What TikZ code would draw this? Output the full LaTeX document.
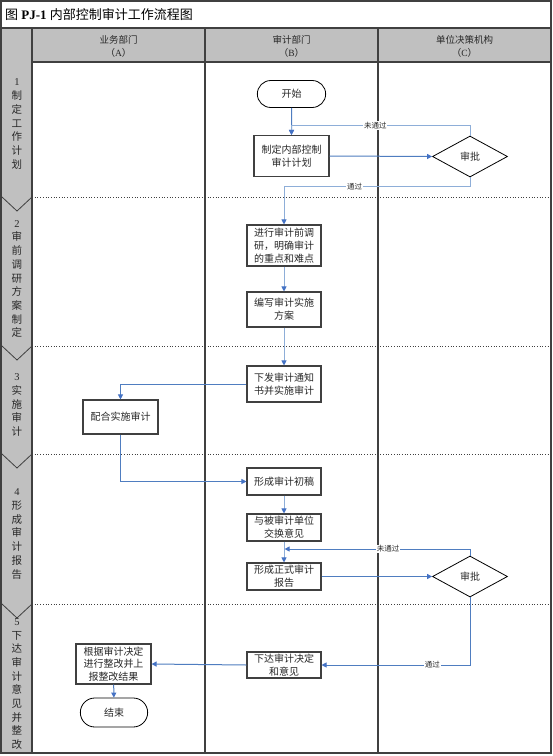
\documentclass[tikz,border=0pt]{standalone}
\usepackage{fontspec}
\setmainfont{Liberation Serif}
\newfontfamily\cjk{Noto Sans CJK SC}
\usetikzlibrary{arrows.meta,shapes.geometric,shapes.misc,calc}
\definecolor{hdr}{RGB}{192,192,192}
\definecolor{frm}{RGB}{64,64,64}
\definecolor{lnD}{RGB}{79,125,192}
\definecolor{lnL}{RGB}{142,174,216}
\definecolor{tip}{RGB}{68,114,196}
\definecolor{txt}{RGB}{40,40,40}
\begin{document}
\begin{tikzpicture}[x=1pt,y=-1pt,
 box/.style={draw=frm, line width=1.1pt, fill=white, minimum width=75pt, align=center, inner sep=0.5pt, text=txt, font=\cjk\fontsize{10}{12.8}\selectfont},
 term/.style={rounded rectangle, draw=black, line width=0.8pt, fill=white, minimum width=75pt, minimum height=27pt, text=txt, font=\cjk\fontsize{10}{12}\selectfont},
 dec/.style={diamond, draw=black, line width=0.8pt, fill=white, minimum width=75pt, minimum height=41pt, inner sep=0pt, text=txt, font=\cjk\fontsize{10}{12}\selectfont},
 fl/.style={draw=lnD, line width=1pt, -{Triangle[length=5pt,width=5pt,color=tip]}},
 fll/.style={fl, draw=lnL},
 lab/.style={fill=white, inner sep=0.8pt, text=txt, font=\cjk\fontsize{7.5}{8}\selectfont},
 phase/.style={align=center, text=txt, font=\cjk\fontsize{10.5}{13.7}\selectfont, inner sep=0pt},
 hd/.style={align=center, text=txt, font=\cjk\fontsize{9.5}{13}\selectfont},
 sep/.style={draw=frm, dotted, line width=0.7pt},
 col/.style={draw=frm, line width=1.5pt}
]
\useasboundingbox (0,0) rectangle (553,756);
\fill[white] (0,0) rectangle (553,756);
% backgrounds
\fill[hdr] (1,28) rectangle (551,62);
\fill[hdr] (1,28) rectangle (32,753);
\foreach \y in {197,346,454,604} {
  \draw[sep] (32,\y) -- (551,\y);
  \draw[frm, line width=0.8pt] (2,\y) -- (17,\y+14) -- (32,\y);
}
\draw[col] (32,28) -- (32,753);
\draw[col] (205,28) -- (205,753);
\draw[col] (378,28) -- (378,753);
\draw[col] (1,28) -- (551,28);
\draw[col] (32,62) -- (551,62);
\draw[col] (1,1) rectangle (551,753);

% title and headers
\node[anchor=west, text=black, font=\fontsize{13}{15}\selectfont, inner sep=0pt] (title) at (5,15) {{\cjk 图} \textbf{PJ-1} {\cjk 内部控制审计工作流程图}};
\node[hd] (hA) at (118.5,46.5) {业务部门\\（\textrm{A}）};
\node[hd] (hB) at (291.5,46.5) {审计部门\\（\textrm{B}）};
\node[hd] (hC) at (464.5,46.5) {单位决策机构\\（\textrm{C}）};

% phases
\node[phase] (p1) at (17,124) {\textrm{1}\\制\\定\\工\\作\\计\\划};
\node[phase] (p2) at (17,279) {\textrm{2}\\审\\前\\调\\研\\方\\案\\制\\定};
\node[phase] (p3) at (17,405) {\textrm{3}\\实\\施\\审\\计};
\node[phase] (p4) at (17,534) {\textrm{4}\\形\\成\\审\\计\\报\\告};
\node[phase] (p5) at (17,684) {\textrm{5}\\下\\达\\审\\计\\意\\见\\并\\整\\改};

% nodes
\node[term] (start) at (291.5,94) {开始};
\node[box, minimum height=41pt] (plan) at (291.5,156) {制定内部控制\\审计计划};
\node[dec] (d1) at (470,156.5) {审批};
\node[box, minimum width=74pt, minimum height=41pt] (research) at (284,245.5) {进行审计前调\\研，明确审计\\的重点和难点};
\node[box, minimum width=74pt, minimum height=35pt] (scheme) at (284,309.5) {编写审计实施\\方案};
\node[box, minimum width=74pt, minimum height=36pt] (notice) at (284,384) {下发审计通知\\书并实施审计};
\node[box, minimum height=34pt] (coop) at (120.5,417) {配合实施审计};
\node[box, minimum width=74pt, minimum height=27pt] (draft) at (284,481.5) {形成审计初稿};
\node[box, minimum width=74pt, minimum height=27pt] (exch) at (284,527.5) {与被审计单位\\交换意见};
\node[box, minimum width=74pt, minimum height=27pt] (report) at (284,576.5) {形成正式审计\\报告};
\node[dec] (d2) at (470,576.5) {审批};
\node[box, minimum width=74pt, minimum height=26pt] (decide) at (284,665) {下达审计决定\\和意见};
\node[box, minimum width=75pt, minimum height=40pt] (rect) at (113.5,664) {根据审计决定\\进行整改并上\\报整改结果};
\node[term, minimum width=74pt, minimum height=29pt] (end) at (114,712.5) {结束};
\coordinate (m2) at (284,549);

% connectors
\draw[fl] (start) -- (plan);
\draw[fll] (d1.north) -- ++(0,-10) -| node[lab, pos=0.265] {未通过} (plan.north);
\draw[fl] (plan.east) -- (d1.west);
\draw[fll] (d1.south) -- ++(0,9) -| node[lab, pos=0.31] {通过} (research.north);
\draw[fll] (research) -- (scheme);
\draw[fll] (scheme) -- (notice);
\draw[fl] (notice.west) -| (coop.north);
\draw[fl] (coop.south) |- (draft.west);
\draw[fll] (draft) -- (exch);
\draw[fll] (exch) -- (report);
\draw[fl] (report.east) -- (d2.west);
\draw[fl, shorten >=0.6pt] (d2.north) |- node[lab, pos=0.72] {未通过} (m2);
\draw[fl] (d2.south) |- node[lab, pos=0.627] {通过} (decide.east);
\draw[fl] (decide.west) -- (rect.east);
\draw[fl] (rect) -- (end);
\end{tikzpicture}
\end{document}
